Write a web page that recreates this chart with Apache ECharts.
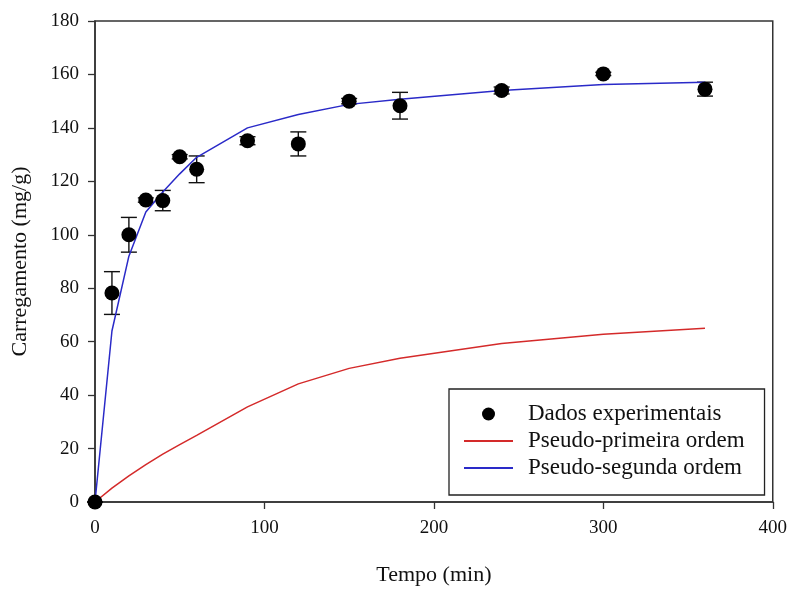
<!DOCTYPE html>
<html><head><meta charset="utf-8">
<script src="https://cdn.jsdelivr.net/npm/echarts@6/dist/echarts.min.js"></script>
<style>html,body{margin:0;padding:0;background:#fff}#c{width:790px;height:591px}</style>
</head><body><div id="c"></div>
<script>
var times = [0, 10, 20, 30, 40, 50, 60, 90, 120, 150, 180, 240, 300, 360];
var experimental = [0, 78.2, 100, 113, 112.8, 129.2, 124.5, 135.2, 134, 150, 148.3, 154, 160.2, 154.5];
var errors = [0, 8, 6.5, 0.8, 3.8, 0.8, 5, 1.5, 4.5, 1, 5, 1.3, 0.6, 2.6];
var pseudoFirst = [0, 5.2, 9.8, 14, 17.9, 21.5, 24.9, 35.6, 44.2, 50, 53.8, 59.3, 62.8, 65];
var pseudoSecond = [0, 64, 92, 108.5, 116, 122.8, 129, 140, 145, 148.8, 150.7, 154, 156.2, 157.1];
var xTicks = [0, 100, 200, 300, 400];
var yTicks = [0, 20, 40, 60, 80, 100, 120, 140, 160, 180];
var seriesNames = ['Dados experimentais', 'Pseudo-primeira ordem', 'Pseudo-segunda ordem'];

var font = 'Liberation Serif';
function pairs(xs, ys) { return xs.map(function (x, i) { return [x, ys[i]]; }); }
var errData = times.map(function (t, i) { return [t, experimental[i] - errors[i], experimental[i] + errors[i]]; });

var chart = echarts.init(document.getElementById('c'), null, { renderer: 'canvas' });
chart.setOption({
  animation: false,
  backgroundColor: '#fff',
  grid: { left: 95, right: 15, top: 21, bottom: 80, show: true, borderColor: '#333', borderWidth: 1.5, backgroundColor: 'transparent' },
  legend: {
    orient: 'vertical', left: 449, top: 389,
    padding: [13, 20, 15, 14],
    borderColor: '#222', borderWidth: 1.3, backgroundColor: '#fff',
    itemWidth: 49, itemHeight: 13, itemGap: 3,
    textStyle: { fontFamily: font, fontSize: 23, lineHeight: 24, color: '#111', padding: [0, 0, 0, 10] },
    data: [
      { name: seriesNames[0], icon: 'circle', itemStyle: { color: '#000' } },
      { name: seriesNames[1], itemStyle: { opacity: 0 } },
      { name: seriesNames[2], itemStyle: { opacity: 0 } }
    ]
  },
  xAxis: {
    type: 'value', min: xTicks[0], max: xTicks[xTicks.length - 1], interval: 100,
    name: 'Tempo (min)', nameLocation: 'middle', nameGap: 62,
    nameTextStyle: { fontFamily: font, fontSize: 22, color: '#111' },
    axisLine: { lineStyle: { color: '#333', width: 1.5 } },
    axisTick: { show: true, inside: false, length: 7, lineStyle: { color: '#333', width: 1.3 } },
    axisLabel: { fontFamily: font, fontSize: 19, color: '#111', margin: 17 },
    splitLine: { show: false }
  },
  yAxis: {
    type: 'value', min: yTicks[0], max: yTicks[yTicks.length - 1], interval: 20,
    name: 'Carregamento (mg/g)', nameLocation: 'middle', nameGap: 64,
    nameTextStyle: { fontFamily: font, fontSize: 22, color: '#111' },
    axisLine: { lineStyle: { color: '#333', width: 1.5 } },
    axisTick: { show: true, inside: false, length: 7, lineStyle: { color: '#333', width: 1.3 } },
    axisLabel: { fontFamily: font, fontSize: 19, color: '#111', margin: 16 },
    splitLine: { show: false }
  },
  series: [
    {
      name: 'err', type: 'custom', clip: false, z: 3,
      data: errData,
      renderItem: function (params, api) {
        var x = api.value(0), lo = api.value(1), hi = api.value(2);
        var pLo = api.coord([x, lo]), pHi = api.coord([x, hi]);
        var hw = 8;
        var st = { stroke: '#111', lineWidth: 1.4 };
        return {
          type: 'group', children: [
            { type: 'line', shape: { x1: pLo[0], y1: pLo[1], x2: pHi[0], y2: pHi[1] }, style: st },
            { type: 'line', shape: { x1: pLo[0] - hw, y1: pLo[1], x2: pLo[0] + hw, y2: pLo[1] }, style: st },
            { type: 'line', shape: { x1: pHi[0] - hw, y1: pHi[1], x2: pHi[0] + hw, y2: pHi[1] }, style: st }
          ]
        };
      }
    },
    {
      name: seriesNames[1], type: 'line', data: pairs(times, pseudoFirst),
      symbol: 'none', smooth: false, z: 4,
      lineStyle: { color: '#d42a2a', width: 1.5 }, itemStyle: { color: '#d42a2a' }
    },
    {
      name: seriesNames[2], type: 'line', data: pairs(times, pseudoSecond),
      symbol: 'none', smooth: false, z: 4,
      lineStyle: { color: '#2a2ac8', width: 1.5 }, itemStyle: { color: '#2a2ac8' }
    },
    {
      name: seriesNames[0], type: 'scatter', data: pairs(times, experimental),
      symbol: 'circle', symbolSize: 15, clip: false, z: 5,
      itemStyle: { color: '#000', opacity: 1 }
    }
  ]
});
</script></body></html>
